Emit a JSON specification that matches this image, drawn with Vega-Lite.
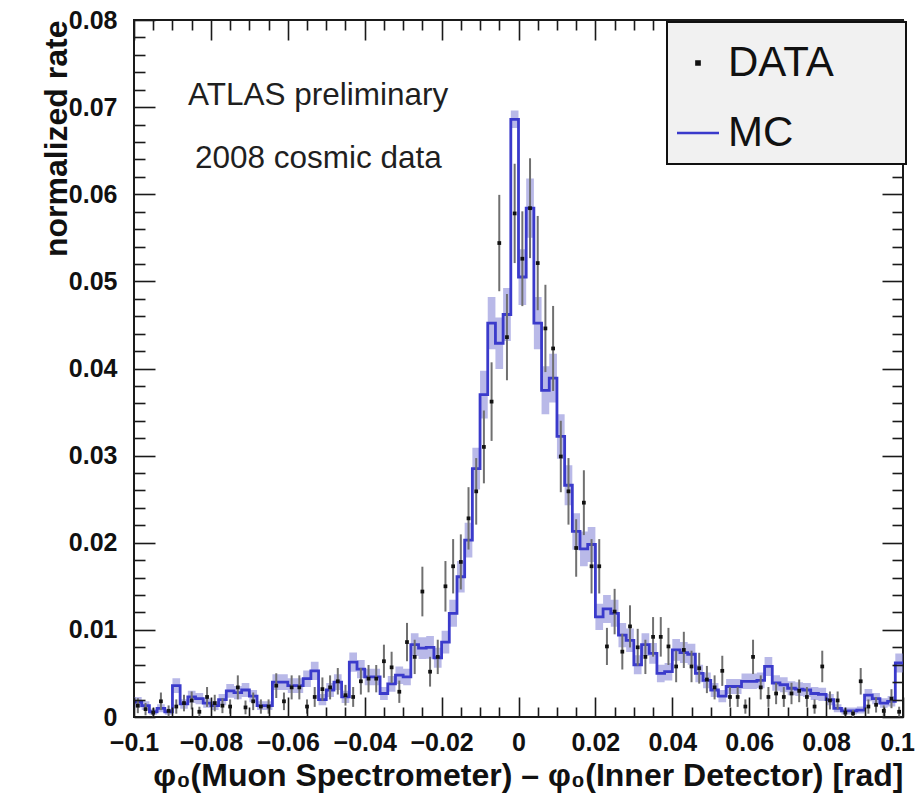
{
  "$schema": "https://vega.github.io/schema/vega-lite/v6.json",
  "width": 769,
  "height": 697,
  "autosize": {"type": "none"},
  "padding": {"left": 134, "top": 20, "right": 15, "bottom": 79},
  "background": "white",
  "config": {"font": "Liberation Sans", "view": {"stroke": "#1a1a1a", "strokeWidth": 2}},
  "datasets": {
    "bins": [
      {"lo":-0.1,"c":-0.099,"mc":0.0017,"me":0.0006,"d":0.0013,"de":0.00086},
      {"lo":-0.098,"c":-0.097,"mc":0.0013,"me":0.0005,"d":0.0009,"de":0.00071},
      {"lo":-0.096,"c":-0.095,"mc":0.0006,"me":0.00035,"d":0.0005,"de":0.0005},
      {"lo":-0.094,"c":-0.093,"mc":0.001,"me":0.00045,"d":0.0018,"de":0.00101},
      {"lo":-0.092,"c":-0.091,"mc":0.0006,"me":0.00035,"d":0.0007,"de":0.00063},
      {"lo":-0.09,"c":-0.089,"mc":0.0036,"me":0.00085,"d":0.0012,"de":0.00082},
      {"lo":-0.088,"c":-0.087,"mc":0.0015,"me":0.00055,"d":0.0016,"de":0.00095},
      {"lo":-0.086,"c":-0.085,"mc":0.0023,"me":0.0007,"d":0.0019,"de":0.00103},
      {"lo":-0.084,"c":-0.083,"mc":0.0021,"me":0.00065,"d":0.0006,"de":0.00058},
      {"lo":-0.082,"c":-0.081,"mc":0.0016,"me":0.00055,"d":0.0023,"de":0.00114},
      {"lo":-0.08,"c":-0.079,"mc":0.0013,"me":0.0005,"d":0.0016,"de":0.00095},
      {"lo":-0.078,"c":-0.077,"mc":0.002,"me":0.00065,"d":0.0013,"de":0.00086},
      {"lo":-0.076,"c":-0.075,"mc":0.003,"me":0.0008,"d":0.0012,"de":0.00082},
      {"lo":-0.074,"c":-0.073,"mc":0.0028,"me":0.00075,"d":0.0034,"de":0.00138},
      {"lo":-0.072,"c":-0.071,"mc":0.0031,"me":0.0008,"d":0.0011,"de":0.00079},
      {"lo":-0.07,"c":-0.069,"mc":0.0024,"me":0.0007,"d":0.0018,"de":0.00101},
      {"lo":-0.068,"c":-0.067,"mc":0.0013,"me":0.0005,"d":0.0012,"de":0.00082},
      {"lo":-0.066,"c":-0.065,"mc":0.0013,"me":0.0005,"d":0.0012,"de":0.00082},
      {"lo":-0.064,"c":-0.063,"mc":0.004,"me":0.0009,"d":0.0036,"de":0.00142},
      {"lo":-0.062,"c":-0.061,"mc":0.004,"me":0.0009,"d":0.0018,"de":0.00101},
      {"lo":-0.06,"c":-0.059,"mc":0.0036,"me":0.00085,"d":0.0034,"de":0.00138},
      {"lo":-0.058,"c":-0.057,"mc":0.0036,"me":0.00085,"d":0.0034,"de":0.00138},
      {"lo":-0.056,"c":-0.055,"mc":0.0044,"me":0.00095,"d":0.0012,"de":0.00082},
      {"lo":-0.054,"c":-0.053,"mc":0.0053,"me":0.00105,"d":0.0023,"de":0.00114},
      {"lo":-0.052,"c":-0.051,"mc":0.002,"me":0.00065,"d":0.0032,"de":0.00134},
      {"lo":-0.05,"c":-0.049,"mc":0.0031,"me":0.0008,"d":0.0034,"de":0.00138},
      {"lo":-0.048,"c":-0.047,"mc":0.004,"me":0.0009,"d":0.0041,"de":0.00152},
      {"lo":-0.046,"c":-0.045,"mc":0.0023,"me":0.0007,"d":0.0025,"de":0.00119},
      {"lo":-0.044,"c":-0.043,"mc":0.0063,"me":0.0011,"d":0.0023,"de":0.00114},
      {"lo":-0.042,"c":-0.041,"mc":0.0055,"me":0.00105,"d":0.0041,"de":0.00152},
      {"lo":-0.04,"c":-0.039,"mc":0.0046,"me":0.00095,"d":0.0044,"de":0.00157},
      {"lo":-0.038,"c":-0.037,"mc":0.0046,"me":0.00095,"d":0.0044,"de":0.00157},
      {"lo":-0.036,"c":-0.035,"mc":0.0027,"me":0.00075,"d":0.0064,"de":0.0019},
      {"lo":-0.034,"c":-0.033,"mc":0.0038,"me":0.0009,"d":0.0057,"de":0.00179},
      {"lo":-0.032,"c":-0.031,"mc":0.0048,"me":0.001,"d":0.0029,"de":0.00128},
      {"lo":-0.03,"c":-0.029,"mc":0.0046,"me":0.00095,"d":0.0086,"de":0.0022},
      {"lo":-0.028,"c":-0.027,"mc":0.0083,"me":0.0013,"d":0.0069,"de":0.00197},
      {"lo":-0.026,"c":-0.025,"mc":0.0079,"me":0.00125,"d":0.0144,"de":0.00285},
      {"lo":-0.024,"c":-0.023,"mc":0.008,"me":0.0013,"d":0.0052,"de":0.00171},
      {"lo":-0.022,"c":-0.021,"mc":0.0068,"me":0.00115,"d":0.0069,"de":0.00197},
      {"lo":-0.02,"c":-0.019,"mc":0.0086,"me":0.0013,"d":0.015,"de":0.0029},
      {"lo":-0.018,"c":-0.017,"mc":0.0119,"me":0.00155,"d":0.0173,"de":0.00312},
      {"lo":-0.016,"c":-0.015,"mc":0.0161,"me":0.0018,"d":0.0178,"de":0.00316},
      {"lo":-0.014,"c":-0.013,"mc":0.0203,"me":0.002,"d":0.0228,"de":0.00358},
      {"lo":-0.012,"c":-0.011,"mc":0.0285,"me":0.0024,"d":0.0259,"de":0.00382},
      {"lo":-0.01,"c":-0.009,"mc":0.037,"me":0.00275,"d":0.031,"de":0.00418},
      {"lo":-0.008,"c":-0.007,"mc":0.0452,"me":0.003,"d":0.0362,"de":0.00451},
      {"lo":-0.006,"c":-0.005,"mc":0.0429,"me":0.00295,"d":0.0544,"de":0.00553},
      {"lo":-0.004,"c":-0.003,"mc":0.0462,"me":0.00305,"d":0.0436,"de":0.00495},
      {"lo":-0.002,"c":-0.001,"mc":0.0686,"me":0.001,"d":0.0578,"de":0.0057},
      {"lo":0,"c":0.001,"mc":0.0505,"me":0.0032,"d":0.0526,"de":0.00544},
      {"lo":0.002,"c":0.003,"mc":0.0584,"me":0.0034,"d":0.0584,"de":0.00573},
      {"lo":0.004,"c":0.005,"mc":0.0452,"me":0.003,"d":0.0521,"de":0.00541},
      {"lo":0.006,"c":0.007,"mc":0.0375,"me":0.00275,"d":0.0446,"de":0.00501},
      {"lo":0.008,"c":0.009,"mc":0.0389,"me":0.0028,"d":0.0423,"de":0.00488},
      {"lo":0.01,"c":0.011,"mc":0.0322,"me":0.00255,"d":0.0299,"de":0.0041},
      {"lo":0.012,"c":0.013,"mc":0.0266,"me":0.0023,"d":0.0259,"de":0.00382},
      {"lo":0.014,"c":0.015,"mc":0.0213,"me":0.0021,"d":0.0194,"de":0.0033},
      {"lo":0.016,"c":0.017,"mc":0.0193,"me":0.002,"d":0.0246,"de":0.00372},
      {"lo":0.018,"c":0.019,"mc":0.0198,"me":0.002,"d":0.0173,"de":0.00312},
      {"lo":0.02,"c":0.021,"mc":0.0115,"me":0.0015,"d":0.0173,"de":0.00312},
      {"lo":0.022,"c":0.023,"mc":0.0124,"me":0.0016,"d":0.0081,"de":0.00213},
      {"lo":0.024,"c":0.025,"mc":0.0119,"me":0.00155,"d":0.0121,"de":0.00261},
      {"lo":0.026,"c":0.027,"mc":0.0094,"me":0.0014,"d":0.0075,"de":0.00205},
      {"lo":0.028,"c":0.029,"mc":0.0088,"me":0.00135,"d":0.0104,"de":0.00242},
      {"lo":0.03,"c":0.031,"mc":0.006,"me":0.0011,"d":0.008,"de":0.00212},
      {"lo":0.032,"c":0.033,"mc":0.0083,"me":0.0013,"d":0.0069,"de":0.00197},
      {"lo":0.034,"c":0.035,"mc":0.0073,"me":0.0012,"d":0.0092,"de":0.00227},
      {"lo":0.036,"c":0.037,"mc":0.005,"me":0.001,"d":0.0092,"de":0.00227},
      {"lo":0.038,"c":0.039,"mc":0.0052,"me":0.001,"d":0.0081,"de":0.00213},
      {"lo":0.04,"c":0.041,"mc":0.0077,"me":0.00125,"d":0.0058,"de":0.00181},
      {"lo":0.042,"c":0.043,"mc":0.0074,"me":0.0012,"d":0.0077,"de":0.00208},
      {"lo":0.044,"c":0.045,"mc":0.0072,"me":0.0012,"d":0.0058,"de":0.00181},
      {"lo":0.046,"c":0.047,"mc":0.005,"me":0.001,"d":0.0056,"de":0.00177},
      {"lo":0.048,"c":0.049,"mc":0.0042,"me":0.0009,"d":0.0043,"de":0.00156},
      {"lo":0.05,"c":0.051,"mc":0.0031,"me":0.0008,"d":0.0034,"de":0.00138},
      {"lo":0.052,"c":0.053,"mc":0.0024,"me":0.0007,"d":0.0053,"de":0.00173},
      {"lo":0.054,"c":0.055,"mc":0.0035,"me":0.00085,"d":0.0023,"de":0.00114},
      {"lo":0.056,"c":0.057,"mc":0.0035,"me":0.00085,"d":0.0023,"de":0.00114},
      {"lo":0.058,"c":0.059,"mc":0.0041,"me":0.0009,"d":0.0012,"de":0.00082},
      {"lo":0.06,"c":0.061,"mc":0.0041,"me":0.0009,"d":0.0069,"de":0.00197},
      {"lo":0.062,"c":0.063,"mc":0.0042,"me":0.0009,"d":0.0034,"de":0.00138},
      {"lo":0.064,"c":0.065,"mc":0.0058,"me":0.0011,"d":0.0023,"de":0.00114},
      {"lo":0.066,"c":0.067,"mc":0.0039,"me":0.0009,"d":0.0027,"de":0.00123},
      {"lo":0.068,"c":0.069,"mc":0.0037,"me":0.00085,"d":0.0023,"de":0.00114},
      {"lo":0.07,"c":0.071,"mc":0.0033,"me":0.0008,"d":0.0027,"de":0.00123},
      {"lo":0.072,"c":0.073,"mc":0.0032,"me":0.0008,"d":0.003,"de":0.0013},
      {"lo":0.074,"c":0.075,"mc":0.0031,"me":0.0008,"d":0.0023,"de":0.00114},
      {"lo":0.076,"c":0.077,"mc":0.0027,"me":0.00075,"d":0.0012,"de":0.00082},
      {"lo":0.078,"c":0.079,"mc":0.0026,"me":0.00075,"d":0.0058,"de":0.00181},
      {"lo":0.08,"c":0.081,"mc":0.002,"me":0.00065,"d":0.0019,"de":0.00103},
      {"lo":0.082,"c":0.083,"mc":0.001,"me":0.00045,"d":0.0019,"de":0.00103},
      {"lo":0.084,"c":0.085,"mc":0.0007,"me":0.0004,"d":0.0005,"de":0.0005},
      {"lo":0.086,"c":0.087,"mc":0.0007,"me":0.0004,"d":0.0004,"de":0.0004},
      {"lo":0.088,"c":0.089,"mc":0.0008,"me":0.0004,"d":0.0041,"de":0.00152},
      {"lo":0.09,"c":0.091,"mc":0.0025,"me":0.0007,"d":0.0012,"de":0.00082},
      {"lo":0.092,"c":0.093,"mc":0.0021,"me":0.00065,"d":0.0014,"de":0.00089},
      {"lo":0.094,"c":0.095,"mc":0.0016,"me":0.00055,"d":0.0007,"de":0.00063},
      {"lo":0.096,"c":0.097,"mc":0.0018,"me":0.0006,"d":0.0021,"de":0.00109},
      {"lo":0.098,"c":0.099,"mc":0.0062,"me":0.0011,"d":0.0006,"de":0.00058},
      {"lo":0.1,"mc":0.0062,"me":0.0011}
    ]
  },
  "data": {"name": "bins"},
  "resolve": {"axis": {"x": "independent", "y": "independent"}},
  "layer": [
    {
      "mark": {"type": "errorband", "interpolate": "step-after", "color": "#7f7fd6", "opacity": 0.55},
      "encoding": {
        "x": {"field": "lo", "type": "quantitative", "scale": {"domain": [-0.1, 0.1], "nice": false, "zero": false}, "axis": null},
        "y": {"field": "mc", "type": "quantitative", "scale": {"domain": [0, 0.08], "nice": false}, "axis": null},
        "yError": {"field": "me"}
      }
    },
    {
      "mark": {"type": "line", "interpolate": "step-after", "strokeWidth": 2.8},
      "encoding": {
        "x": {
          "field": "lo", "type": "quantitative",
          "scale": {"domain": [-0.1, 0.1], "nice": false, "zero": false},
          "axis": {
            "orient": "bottom", "zindex": 1,
            "values": [-0.1,-0.095,-0.09,-0.085,-0.08,-0.075,-0.07,-0.065,-0.06,-0.055,-0.05,-0.045,-0.04,-0.035,-0.03,-0.025,-0.02,-0.015,-0.01,-0.005,0,0.005,0.01,0.015,0.02,0.025,0.03,0.035,0.04,0.045,0.05,0.055,0.06,0.065,0.07,0.075,0.08,0.085,0.09,0.095,0.1],
            "domain": false, "grid": false, "ticks": true,
            "tickSize": 0, "tickColor": "#1a1a1a", "tickWidth": 1.6,
            "labelExpr": "abs(datum.value*50 - round(datum.value*50)) < 0.01 ? format(datum.value, '.2~f') : ''",
            "labelFont": "Liberation Sans", "labelFontWeight": "bold", "labelFontSize": 25, "labelColor": "#111111",
            "labelPadding": 33, "labelBaseline": "alphabetic", "labelOverlap": false, "labelFlush": false,
            "title": "φ₀(Muon Spectrometer) – φ₀(Inner Detector) [rad]",
            "titleFont": "Liberation Sans", "titleFontWeight": "bold", "titleFontSize": 32, "titleColor": "#111111",
            "titleAnchor": "end", "titleAlign": "right", "titleBaseline": "alphabetic", "titleX": 769, "titleY": 68,
            "encoding": {
              "ticks": {"y2": {"value": {"expr": "abs(datum.value*50 - round(datum.value*50)) < 0.01 ? -20 : -10"}}},
              "labels": {"dx": {"value": {"expr": "datum.value > 0.099 ? -6 : 0"}}}
            }
          }
        },
        "y": {
          "field": "mc", "type": "quantitative",
          "scale": {"domain": [0, 0.08], "nice": false},
          "axis": {
            "orient": "left", "zindex": 1,
            "values": [0,0.002,0.004,0.006,0.008,0.01,0.012,0.014,0.016,0.018,0.02,0.022,0.024,0.026,0.028,0.03,0.032,0.034,0.036,0.038,0.04,0.042,0.044,0.046,0.048,0.05,0.052,0.054,0.056,0.058,0.06,0.062,0.064,0.066,0.068,0.07,0.072,0.074,0.076,0.078,0.08],
            "domain": false, "grid": false, "ticks": true,
            "tickSize": 0, "tickColor": "#1a1a1a", "tickWidth": 1.6,
            "labelExpr": "abs(datum.value*100 - round(datum.value*100)) < 0.01 ? format(datum.value, '.2~f') : ''",
            "labelFont": "Liberation Sans", "labelFontWeight": "bold", "labelFontSize": 25, "labelColor": "#111111",
            "labelPadding": 17, "labelOverlap": false, "labelFlush": false,
            "title": "normalized rate",
            "titleFont": "Liberation Sans", "titleFontWeight": "bold", "titleFontSize": 32, "titleColor": "#111111",
            "titleAngle": -90, "titleAnchor": "end", "titleAlign": "right", "titleBaseline": "alphabetic", "titleX": -68, "titleY": 0,
            "encoding": {
              "ticks": {"x2": {"value": {"expr": "abs(datum.value*100 - round(datum.value*100)) < 0.01 ? 21 : 11"}}}
            }
          }
        },
        "color": {
          "datum": "MC", "type": "nominal",
          "scale": {"domain": ["DATA", "MC"], "range": ["#111111", "#3a3acb"]},
          "legend": {
            "orient": "none", "legendX": 533, "legendY": 2, "zindex": 3,
            "title": " ", "titleFontSize": 4, "titlePadding": 6,
            "padding": 10, "fillColor": "#f1f1f1", "strokeColor": "#111111",
            "labelFont": "Liberation Sans", "labelFontSize": 42, "labelColor": "#111111",
            "labelOffset": 9, "labelLimit": 400, "rowPadding": 28,
            "symbolSize": 1764, "symbolStrokeWidth": 2.5,
            "labelExpr": "datum.label + '\u2800\u2800'",
            "encode": {
              "symbols": {"update": {
                "shape": {"signal": "datum.value === 'MC' ? 'stroke' : 'square'"},
                "size": {"signal": "datum.value === 'MC' ? 1764 : 10"},
                "strokeWidth": {"value": 2.5},
                "stroke": {"signal": "datum.value === 'MC' ? '#4545c8' : 'transparent'"},
                "fill": {"signal": "datum.value === 'MC' ? 'transparent' : '#111111'"}
              }},
              "legend": {"update": {"strokeWidth": {"value": 2}}}
            }
          }
        }
      }
    },
    {
      "transform": [{"filter": "isValid(datum.d)"}],
      "mark": {"type": "errorbar", "color": "#707070", "thickness": 2},
      "encoding": {
        "x": {"field": "c", "type": "quantitative", "scale": {"domain": [-0.1, 0.1], "nice": false, "zero": false}, "axis": null},
        "y": {"field": "d", "type": "quantitative", "scale": {"domain": [0, 0.08], "nice": false}, "axis": null},
        "yError": {"field": "de"}
      }
    },
    {
      "transform": [{"filter": "isValid(datum.d)"}],
      "mark": {"type": "point", "shape": "square", "filled": true, "size": 14, "opacity": 1},
      "encoding": {
        "x": {"field": "c", "type": "quantitative", "scale": {"domain": [-0.1, 0.1], "nice": false, "zero": false}, "axis": null},
        "y": {"field": "d", "type": "quantitative", "scale": {"domain": [0, 0.08], "nice": false}, "axis": null},
        "color": {"datum": "DATA", "type": "nominal"}
      }
    },
    {
      "data": {"values": [{"note": "ATLAS preliminary"}]},
      "mark": {"type": "text", "align": "left", "baseline": "alphabetic", "font": "Liberation Sans", "fontSize": 31.5, "color": "#1f1f1f"},
      "encoding": {
        "x": {
          "datum": -0.08596, "type": "quantitative",
          "scale": {"domain": [-0.1, 0.1], "nice": false, "zero": false},
          "axis": {
            "orient": "top", "zindex": 1, "labels": false, "title": null, "domain": false, "grid": false, "ticks": true,
            "values": [-0.1,-0.095,-0.09,-0.085,-0.08,-0.075,-0.07,-0.065,-0.06,-0.055,-0.05,-0.045,-0.04,-0.035,-0.03,-0.025,-0.02,-0.015,-0.01,-0.005,0,0.005,0.01,0.015,0.02,0.025,0.03,0.035,0.04,0.045,0.05,0.055,0.06,0.065,0.07,0.075,0.08,0.085,0.09,0.095,0.1],
            "tickSize": 0, "tickColor": "#1a1a1a", "tickWidth": 1.6,
            "encoding": {
              "ticks": {"y2": {"value": {"expr": "abs(datum.value*50 - round(datum.value*50)) < 0.01 ? 20 : 10"}}}
            }
          }
        },
        "y": {
          "datum": 0.07025, "type": "quantitative",
          "scale": {"domain": [0, 0.08], "nice": false},
          "axis": {
            "orient": "right", "zindex": 1, "labels": false, "title": null, "domain": false, "grid": false, "ticks": true,
            "values": [0,0.002,0.004,0.006,0.008,0.01,0.012,0.014,0.016,0.018,0.02,0.022,0.024,0.026,0.028,0.03,0.032,0.034,0.036,0.038,0.04,0.042,0.044,0.046,0.048,0.05,0.052,0.054,0.056,0.058,0.06,0.062,0.064,0.066,0.068,0.07,0.072,0.074,0.076,0.078,0.08],
            "tickSize": 0, "tickColor": "#1a1a1a", "tickWidth": 1.6,
            "encoding": {
              "ticks": {"x2": {"value": {"expr": "abs(datum.value*100 - round(datum.value*100)) < 0.01 ? -21 : -11"}}}
            }
          }
        },
        "text": {"field": "note"}
      }
    },
    {
      "data": {"values": [{"note": "2008 cosmic data"}]},
      "mark": {"type": "text", "align": "left", "baseline": "alphabetic", "font": "Liberation Sans", "fontSize": 31.5, "color": "#1f1f1f"},
      "encoding": {
        "x": {"datum": -0.08414, "type": "quantitative", "scale": {"domain": [-0.1, 0.1], "nice": false, "zero": false}, "axis": null},
        "y": {"datum": 0.06302, "type": "quantitative", "scale": {"domain": [0, 0.08], "nice": false}, "axis": null},
        "text": {"field": "note"}
      }
    }
  ]
}
